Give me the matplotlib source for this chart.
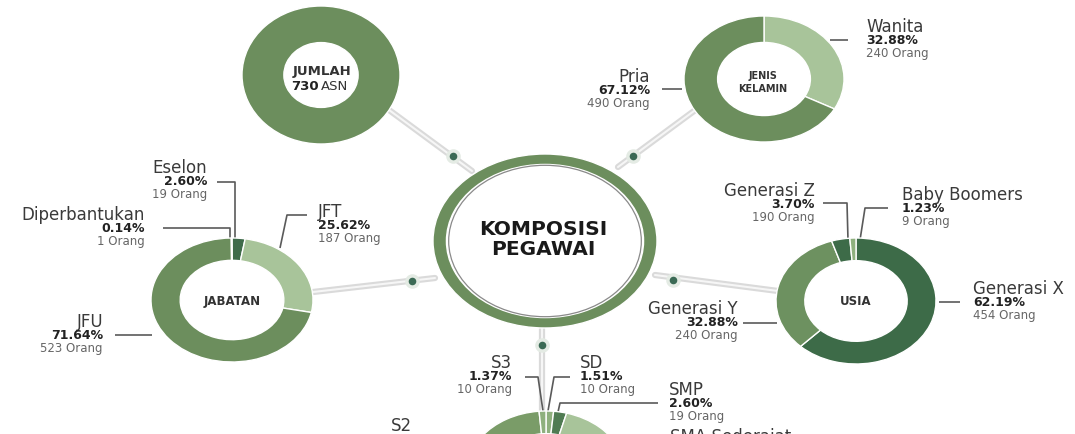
import matplotlib
matplotlib.use('Agg')
import matplotlib.pyplot as plt
from matplotlib.patches import Ellipse

# ---- Data ----
total_asn = 730

jenis_labels = ['Wanita', 'Pria']
jenis_pct = [32.88, 67.12]
jenis_n = [240, 490]

jabatan_labels = ['Eselon', 'JFT', 'JFU', 'Diperbantukan']
jabatan_pct = [2.60, 25.62, 71.64, 0.14]
jabatan_n = [19, 187, 523, 1]

usia_labels = ['Generasi X', 'Generasi Y', 'Generasi Z', 'Baby Boomers']
usia_pct = [62.19, 32.88, 3.70, 1.23]
usia_n = [454, 240, 190, 9]

# bottom donut is cut off in the picture; SMA / S1 / S2 shares are estimates
pend_labels = ['SD', 'SMP', 'SMA Sederajat', 'S1', 'S2', 'S3']
pend_pct = [1.51, 2.60, 30.0, 50.0, 13.52, 1.37]
pend_n = [10, 19, None, None, None, 10]

# ---- Style ----
W, H = 1075, 435
c_mid = '#6c8e5d'
c_light = '#a8c49a'
c_dark = '#3f6b4a'
c_line = '#5a5a5a'
c_grey = '#666666'
c_name = '#3a3a3a'

fig = plt.figure(figsize=(W / 100, H / 100), dpi=100)
bg = fig.add_axes([0, 0, 1, 1])
bg.set_xlim(0, W)
bg.set_ylim(H, 0)
bg.axis('off')


def donut(cx, cy, rx, ry, values, colors, width, start=90):
    ax = fig.add_axes([(cx - rx) / W, (H - cy - ry) / H, 2 * rx / W, 2 * ry / H])
    ax.pie(values, colors=colors, startangle=start, counterclock=False,
           radius=1, wedgeprops=dict(width=width, edgecolor='white', linewidth=1.0))
    ax.set_xlim(-1, 1)
    ax.set_ylim(-1, 1)
    ax.set_aspect('auto')
    ax.axis('off')
    return ax


def label(x, y, name, pct, n, ha):
    bg.text(x, y, name, fontsize=12, ha=ha, va='center', color=c_name)
    if pct is not None:
        bg.text(x, y + 14, f'{pct:.2f}%', fontsize=9, fontweight='bold',
                ha=ha, va='center', color='#222222')
    if n is not None:
        bg.text(x, y + 27, f'{n} Orang', fontsize=8.5, ha=ha, va='center', color=c_grey)


def leader(xs, ys):
    bg.plot(xs, ys, color=c_line, linewidth=1.2, solid_capstyle='butt')


def connector(p0, p1, dot):
    bg.plot([p0[0], p1[0]], [p0[1], p1[1]], color='#dadada', linewidth=4.5,
            solid_capstyle='round', zorder=1)
    bg.plot([p0[0], p1[0]], [p0[1], p1[1]], color='#f6f6f6', linewidth=1.5,
            solid_capstyle='round', zorder=1)
    bg.scatter([dot[0]], [dot[1]], s=110, color='#e4ebe4', zorder=2, linewidths=0)
    bg.scatter([dot[0]], [dot[1]], s=30, color='#3b6a55', zorder=3, linewidths=0)


# ---- Connectors ----
connector((385, 108), (472, 172), (453, 157))
connector((694, 112), (618, 168), (633, 157))
connector((313, 293), (435, 279), (412, 282))
connector((655, 276), (778, 292), (673, 281))
connector((542, 330), (542, 412), (542, 346))

# ---- Center ----
ax_c = donut(545, 242, 112, 87, [1], [c_mid], 0.12)
ax_c.add_patch(Ellipse((0, 0), 1.72, 1.74, fill=False, edgecolor='#8a8a8a', linewidth=0.9))
bg.text(543, 230, 'KOMPOSISI', fontsize=14.5, fontweight='bold', ha='center', va='center', color='#1a1a1a')
bg.text(543, 250, 'PEGAWAI', fontsize=14.5, fontweight='bold', ha='center', va='center', color='#1a1a1a')

# ---- Jumlah ----
donut(321, 76, 79, 69, [total_asn], [c_mid], 0.53)
bg.text(322, 72, 'JUMLAH', fontsize=9.5, fontweight='bold', ha='center', va='center', color='#333333')
bg.text(319, 87, f'{total_asn}', fontsize=9.5, fontweight='bold', ha='right', va='center', color='#222222')
bg.text(321, 87, 'ASN', fontsize=9.5, ha='left', va='center', color='#333333')

# ---- Jenis kelamin ----
donut(764, 80, 80, 63, jenis_pct, [c_light, c_mid], 0.42)
bg.text(763, 76, 'JENIS', fontsize=7, fontweight='bold', ha='center', va='center', color='#333333')
bg.text(763, 89, 'KELAMIN', fontsize=7, fontweight='bold', ha='center', va='center', color='#333333')
label(866, 27, jenis_labels[0], jenis_pct[0], jenis_n[0], 'left')
leader([830, 848], [41, 41])
label(650, 77, jenis_labels[1], jenis_pct[1], jenis_n[1], 'right')
leader([662, 682], [90, 90])

# ---- Jabatan ----
donut(232, 301, 81, 62, jabatan_pct, [c_dark, c_light, c_mid, '#8fb07e'], 0.36)
bg.text(232, 302, 'JABATAN', fontsize=8.5, fontweight='bold', ha='center', va='center', color='#333333')
label(207, 168, jabatan_labels[0], jabatan_pct[0], jabatan_n[0], 'right')
leader([217, 235, 235], [183, 183, 244])
label(318, 212, jabatan_labels[1], jabatan_pct[1], jabatan_n[1], 'left')
leader([307, 287, 280], [216, 216, 249])
label(145, 215, jabatan_labels[3], jabatan_pct[3], jabatan_n[3], 'right')
leader([163, 230, 230], [229, 229, 244])
label(103, 322, jabatan_labels[2], jabatan_pct[2], jabatan_n[2], 'right')
leader([115, 152], [336, 336])

# ---- Usia ----
donut(856, 302, 80, 63, usia_pct, ['#3d6b48', '#6d9160', '#3d6b48', '#8fb07e'], 0.36)
bg.text(856, 302, 'USIA', fontsize=8.5, fontweight='bold', ha='center', va='center', color='#333333')
label(973, 289, usia_labels[0], usia_pct[0], usia_n[0], 'left')
leader([939, 960], [303, 303])
label(738, 309, usia_labels[1], usia_pct[1], usia_n[1], 'right')
leader([743, 777], [324, 324])
label(815, 191, usia_labels[2], usia_pct[2], usia_n[2], 'right')
leader([823, 847, 848], [204, 204, 241])
label(902, 195, usia_labels[3], usia_pct[3], usia_n[3], 'left')
leader([888, 865, 860], [209, 209, 241])

# ---- Pendidikan (cut off at the bottom) ----
donut(546, 475, 80, 63, pend_pct,
      ['#8fb07e', '#4f7b52', c_light, '#5d8455', '#7a9c68', '#8fb07e'], 0.36)
label(512, 363, pend_labels[5], pend_pct[5], pend_n[5], 'right')
leader([525, 538, 543], [378, 378, 412])
label(580, 363, pend_labels[0], pend_pct[0], pend_n[0], 'left')
leader([570, 554, 548], [378, 378, 412])
label(669, 390, pend_labels[1], pend_pct[1], pend_n[1], 'left')
leader([658, 560, 558], [404, 404, 413])
label(412, 426, pend_labels[4], None, None, 'right')
label(670, 437, pend_labels[2], None, None, 'left')

fig.savefig('out.png', dpi=100)
